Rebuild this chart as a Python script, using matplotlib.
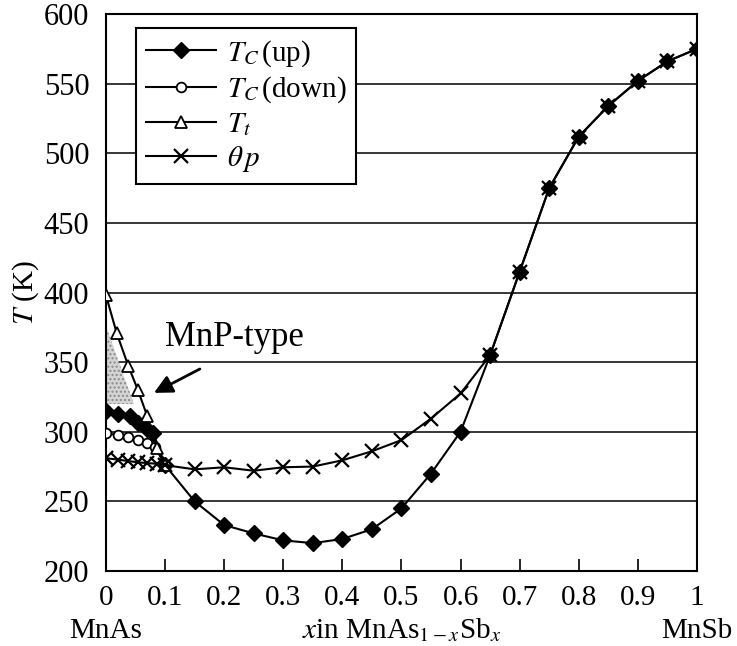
import matplotlib
matplotlib.use("Agg")
import matplotlib.pyplot as plt
from matplotlib.patches import Polygon

plt.rcParams.update({
    "font.family": ["Liberation Serif", "DejaVu Serif"],
    "mathtext.fontset": "stix",
    "axes.linewidth": 1.5,
    "hatch.color": "#8a8a8a",
})

# data
x_up = [0, 0.02, 0.04, 0.055, 0.07, 0.08, 0.1, 0.15, 0.2, 0.25, 0.3, 0.35, 0.4,
        0.45, 0.5, 0.55, 0.6, 0.65, 0.7, 0.75, 0.8, 0.85, 0.9, 0.95, 1.0]
tc_up = [315, 313, 311, 306, 302, 299, 276, 250, 233, 227, 222, 220, 223,
         230, 245, 270, 300, 355, 415, 475, 512, 534, 552, 566, 575]

x_down = [0, 0.02, 0.037, 0.054, 0.07, 0.083, 0.1]
tc_down = [299, 297.5, 296, 294, 292, 289, 276]

x_t = [0, 0.018, 0.038, 0.054, 0.07, 0.086, 0.1]
t_t = [398, 371, 347, 330, 311, 288, 276]

x_p = [0, 0.02, 0.037, 0.055, 0.07, 0.087, 0.1, 0.15, 0.2, 0.25, 0.3, 0.35,
       0.4, 0.45, 0.5, 0.55, 0.6, 0.65, 0.7, 0.75, 0.8, 0.85, 0.9, 0.95, 1.0]
theta_p = [281, 280, 279, 278, 277.5, 277, 276, 273, 274.5, 272, 274.5, 275,
           279.5, 286, 294, 309.5, 327.5, 355, 415, 475, 512, 534, 552, 566, 575]

# MnP-type shaded region (x, T)
shade_x = [0, 0, 0.047]
shade_t = [376, 320, 320]

x_ticks = [0, 0.1, 0.2, 0.3, 0.4, 0.5, 0.6, 0.7, 0.8, 0.9, 1]
x_ticklabels = ["0", "0.1", "0.2", "0.3", "0.4", "0.5", "0.6", "0.7", "0.8", "0.9", "1"]
y_ticks = [200, 250, 300, 350, 400, 450, 500, 550, 600]

fig = plt.figure(figsize=(7.37, 6.46), dpi=100)
ax = fig.add_axes([0.1438, 0.1161, 0.8019, 0.8622])

for yv in y_ticks[1:-1]:
    ax.axhline(yv, color="black", lw=1.1, zorder=0)

ax.add_patch(Polygon(list(zip(shade_x, shade_t)), closed=True, facecolor="#d4d4d4",
                     edgecolor="#8a8a8a", lw=0, hatch="....", zorder=1))

kw = dict(color="black", lw=1.5, zorder=3)
ax.plot(x_up, tc_up, marker="D", ms=8, mfc="black", mec="black", label=r"$T_C\,$(up)", **kw)
ax.plot(x_down, tc_down, marker="o", ms=7, mfc="white", mec="black", mew=1.3,
        label=r"$T_C\,$(down)", **kw)
ax.plot(x_t, t_t, marker="^", ms=9, mfc="white", mec="black", mew=1.3, label=r"$T_t$", **kw)
ax.plot(x_p, theta_p, marker="x", ms=10, mew=1.6, mec="black", label=r"$\theta\,p$", **kw)

ax.annotate("", xy=(0.077, 327), xytext=(0.163, 346),
            arrowprops=dict(arrowstyle="-|>,head_length=1.1,head_width=0.55",
                            color="black", lw=2))
ax.text(0.1, 368, "MnP-type", fontsize=25, ha="left", va="center")

ax.set_xlim(0, 1)
ax.set_ylim(200, 600)
ax.set_xticks(x_ticks)
ax.set_xticklabels(x_ticklabels)
ax.set_yticks(y_ticks)
ax.tick_params(axis="x", direction="in", length=9, width=1.2, labelsize=21, pad=10)
ax.tick_params(axis="y", length=0, labelsize=22, pad=12)
for lbl in ax.get_xticklabels() + ax.get_yticklabels():
    lbl.set_fontfamily("Liberation Serif")
ax.set_ylabel(r"$T$ (K)", fontsize=21, labelpad=2)

ax.text(0, -0.12, "MnAs", transform=ax.transAxes, ha="center", va="baseline", fontsize=21)
ax.text(1, -0.12, "MnSb", transform=ax.transAxes, ha="center", va="baseline", fontsize=21)
ax.text(0.5, -0.12, r"$x$in MnAs$_{1-x}$Sb$_x$", transform=ax.transAxes,
        ha="center", va="baseline", fontsize=21)

leg = ax.legend(loc="upper left", bbox_to_anchor=(0.051, 0.975), borderaxespad=0,
                fontsize=21, frameon=True, fancybox=False, edgecolor="black",
                framealpha=1, handlelength=2.4, handletextpad=0.35, borderpad=0.35,
                labelspacing=0.2)
leg.get_frame().set_linewidth(1.5)

fig.savefig("out.png", dpi=100)
